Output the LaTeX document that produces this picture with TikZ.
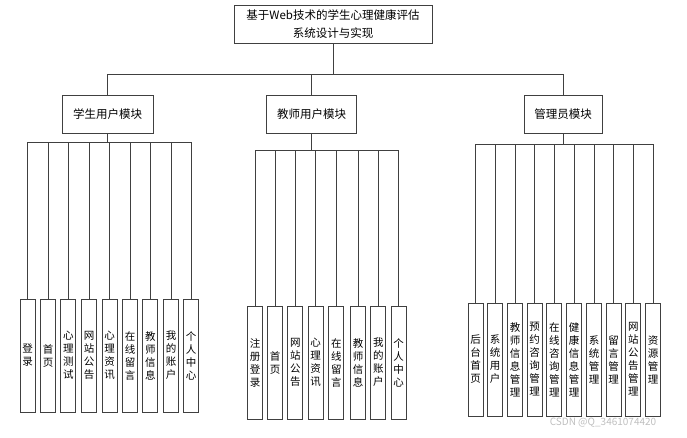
\documentclass[tikz,border=0pt]{standalone}
\usepackage{fontspec}
\setmainfont{Noto Sans CJK SC}
\begin{document}
\begin{tikzpicture}[x=1pt, y=-1pt, line width=0.8pt, draw=black!75]
	% Stili per i riquadri
	\tikzset{
		riquadro/.style={draw=black!75, fill=white, inner sep=0pt, align=center},
		modulo/.style={riquadro, minimum height=38pt, font=\fontsize{11.5}{14}\selectfont},
		foglia/.style={riquadro, minimum width=15pt, minimum height=113pt, font=\fontsize{10.5}{13}\selectfont}
	}
	\useasboundingbox (0,0) rectangle (687,437);

	% Titolo e moduli
	\node[riquadro, minimum width=198pt, minimum height=38pt, font=\fontsize{11.5}{18}\selectfont] (titolo) at (333,24) {基于Web技术的学生心理健康评估\\系统设计与实现};
	\node[modulo, minimum width=91pt] (stu) at (107.5,114) {学生用户模块};
	\node[modulo, minimum width=90pt] (doc) at (311.5,114) {教师用户模块};
	\node[modulo, minimum width=78pt] (adm) at (563,114) {管理员模块};

	% Punti di raccordo
	\coordinate (bt) at (333,74.5);
	\coordinate (bs) at (107.5,142);
	\coordinate (bd) at (311.5,150);
	\coordinate (ba) at (563,144);

	% Foglie del modulo studente
	\node[foglia] (s1) at (27.7,355.5) {登\\录};
	\node[foglia] (s2) at (48,355.5) {首\\页};
	\node[foglia] (s3) at (68.3,355.5) {心\\理\\测\\试};
	\node[foglia] (s4) at (89,355.5) {网\\站\\公\\告};
	\node[foglia] (s5) at (109.5,355.5) {心\\理\\资\\讯};
	\node[foglia] (s6) at (130,355.5) {在\\线\\留\\言};
	\node[foglia] (s7) at (150.3,355.5) {教\\师\\信\\息};
	\node[foglia] (s8) at (171,355.5) {我\\的\\账\\户};
	\node[foglia] (s9) at (191,355.5) {个\\人\\中\\心};

	% Foglie del modulo docente
	\node[foglia] (d1) at (255,362.5) {注\\册\\登\\录};
	\node[foglia] (d2) at (275,362.5) {首\\页};
	\node[foglia] (d3) at (295.3,362.5) {网\\站\\公\\告};
	\node[foglia] (d4) at (315.7,362.5) {心\\理\\资\\讯};
	\node[foglia] (d5) at (336.3,362.5) {在\\线\\留\\言};
	\node[foglia] (d6) at (358,362.5) {教\\师\\信\\息};
	\node[foglia] (d7) at (378.3,362.5) {我\\的\\账\\户};
	\node[foglia] (d8) at (398.7,362.5) {个\\人\\中\\心};

	% Foglie del modulo amministratore
	\node[foglia] (a1) at (475.5,359.5) {后\\台\\首\\页};
	\node[foglia] (a2) at (495,359.5) {系\\统\\用\\户};
	\node[foglia] (a3) at (515,359.5) {教\\师\\信\\息\\管\\理};
	\node[foglia] (a4) at (534.7,359.5) {预\\约\\咨\\询\\管\\理};
	\node[foglia] (a5) at (554.3,359.5) {在\\线\\咨\\询\\管\\理};
	\node[foglia] (a6) at (574,359.5) {健\\康\\信\\息\\管\\理};
	\node[foglia] (a7) at (594,359.5) {系\\统\\管\\理};
	\node[foglia] (a8) at (613.7,359.5) {留\\言\\管\\理};
	\node[foglia] (a9) at (633.3,359.5) {网\\站\\公\\告\\管\\理};
	\node[foglia] (a10) at (653,359.5) {资\\源\\管\\理};

	% Collegamenti
	\draw (titolo) -- (bt);
	\draw (stu.north) |- (bt);
	\draw (doc.north) |- (bt);
	\draw (adm.north) |- (bt);
	\draw (stu) -- (bs);
	\draw (doc) -- (bd);
	\draw (adm) -- (ba);
	\draw (s1.north) |- (bs);
	\draw (s2.north) |- (bs);
	\draw (s3.north) |- (bs);
	\draw (s4.north) |- (bs);
	\draw (s5.north) |- (bs);
	\draw (s6.north) |- (bs);
	\draw (s7.north) |- (bs);
	\draw (s8.north) |- (bs);
	\draw (s9.north) |- (bs);
	\draw (d1.north) |- (bd);
	\draw (d2.north) |- (bd);
	\draw (d3.north) |- (bd);
	\draw (d4.north) |- (bd);
	\draw (d5.north) |- (bd);
	\draw (d6.north) |- (bd);
	\draw (d7.north) |- (bd);
	\draw (d8.north) |- (bd);
	\draw (a1.north) |- (ba);
	\draw (a2.north) |- (ba);
	\draw (a3.north) |- (ba);
	\draw (a4.north) |- (ba);
	\draw (a5.north) |- (ba);
	\draw (a6.north) |- (ba);
	\draw (a7.north) |- (ba);
	\draw (a8.north) |- (ba);
	\draw (a9.north) |- (ba);
	\draw (a10.north) |- (ba);

	% Filigrana
	\node[text=black!25, font=\fontsize{10}{12}\selectfont, inner sep=0pt] (firma) at (603,423) {CSDN @Q\_3461074420};
\end{tikzpicture}
\end{document}
